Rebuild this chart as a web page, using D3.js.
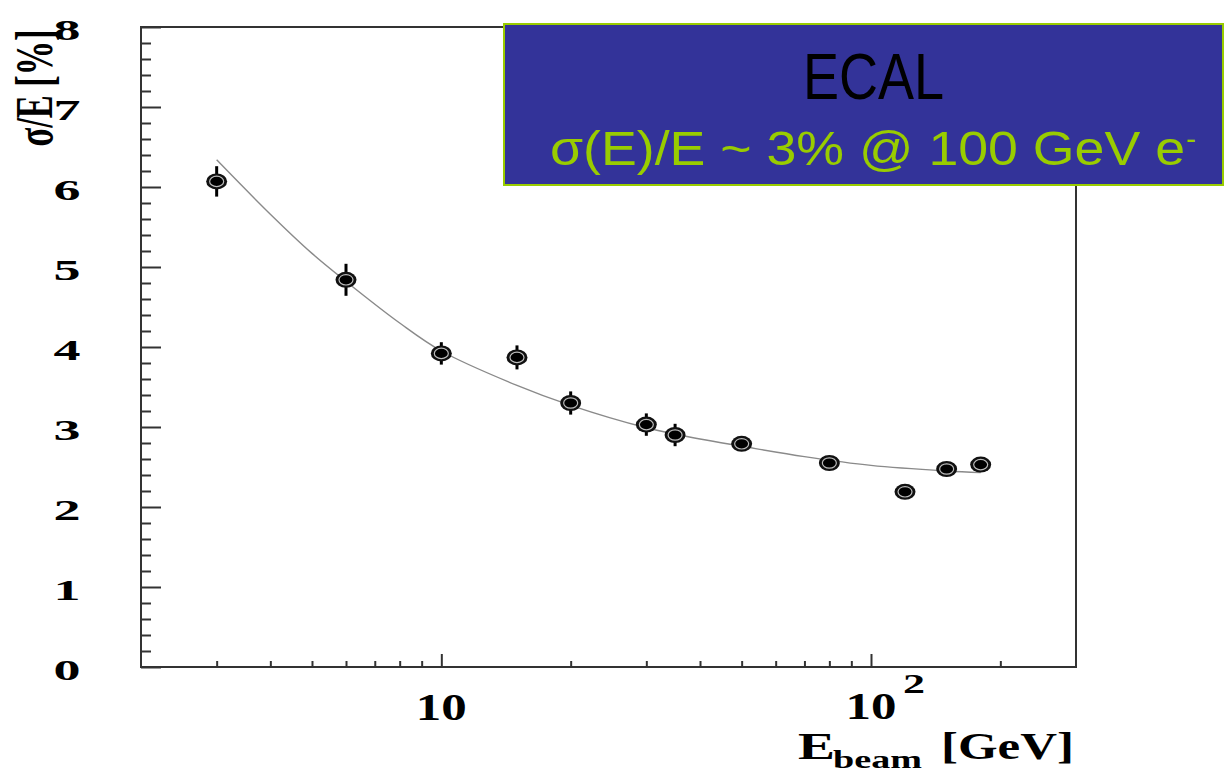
<!DOCTYPE html>
<html>
<head>
<meta charset="utf-8">
<script src="https://cdn.jsdelivr.net/npm/d3@7"></script>
<style>
  html, body { margin: 0; padding: 0; background: #fff; }
  svg { display: block; }
</style>
</head>
<body>
<svg id="chart" width="1224" height="773"></svg>
<script>
// Beam energies [GeV] and measured energy resolution sigma/E [%]
const beamEnergy = [3, 6, 10, 15, 20, 30, 35, 50, 80, 120, 150, 180];
const resolution = [6.07, 4.84, 3.92, 3.87, 3.30, 3.03, 2.90, 2.79, 2.55, 2.19, 2.475, 2.53];
const resolutionErr = [0.19, 0.2, 0.14, 0.15, 0.145, 0.14, 0.14, 0.09, 0.07, 0.06, 0.07, 0.07];

// Fitted resolution curve, sampled along the beam energy range
const fitEnergy = [3, 4, 5, 6, 8, 10, 15, 20, 30, 40, 50, 70, 100, 150, 180];
const fitValue  = [6.34, 5.66, 5.17, 4.82, 4.30, 3.95, 3.52, 3.27, 2.99, 2.85, 2.76, 2.63, 2.52, 2.45, 2.43];

// Axis ticks
const yTicks = [0, 1, 2, 3, 4, 5, 6, 7, 8];
const xMajorTicks = [10, 100];
const xMinorTicks = [3, 4, 5, 6, 7, 8, 9, 20, 30, 40, 50, 60, 70, 80, 90, 200];

const svg = d3.select("#chart");

const frame = { left: 141, right: 1076, top: 27, bottom: 667 };

const x = d3.scaleLog().domain([2, 300]).range([frame.left, frame.right]);
const y = d3.scaleLinear().domain([0, 8]).range([frame.bottom, frame.top]);

const axisColor = "#333";

// Frame
svg.append("rect")
  .attr("x", frame.left).attr("y", frame.top)
  .attr("width", frame.right - frame.left).attr("height", frame.bottom - frame.top)
  .attr("fill", "none").attr("stroke", axisColor).attr("stroke-width", 2);

// Y axis: major ticks at integers, minor ticks every 0.2
const yMinor = d3.range(0, 8.001, 0.2).filter(v => Math.abs(v - Math.round(v)) > 1e-6);
const yAxisMajor = d3.axisRight(y).tickValues(yTicks).tickSize(20).tickFormat("");
const yAxisMinor = d3.axisRight(y).tickValues(yMinor).tickSize(10).tickFormat("");
[yAxisMajor, yAxisMinor].forEach(ax => {
  const g = svg.append("g").attr("transform", `translate(${frame.left},0)`).call(ax);
  g.select(".domain").remove();
  g.selectAll("line").attr("stroke", axisColor).attr("stroke-width", 2);
});

// X axis: decade ticks longer than intermediate ticks
const xAxisMajor = d3.axisTop(x).tickValues(xMajorTicks).tickSize(13).tickFormat("");
const xAxisMinor = d3.axisTop(x).tickValues(xMinorTicks).tickSize(6).tickFormat("");
[xAxisMajor, xAxisMinor].forEach(ax => {
  const g = svg.append("g").attr("transform", `translate(0,${frame.bottom})`).call(ax);
  g.select(".domain").remove();
  g.selectAll("line").attr("stroke", axisColor).attr("stroke-width", 2);
});

const serif = "'Liberation Serif', 'Times New Roman', serif";

// Y tick labels
svg.append("g").selectAll("text")
  .data(yTicks)
  .join("text")
  .attr("x", 67)
  .attr("y", d => y(d) + 13)
  .attr("text-anchor", "middle")
  .attr("font-family", serif)
  .attr("font-weight", "bold")
  .attr("font-size", 30)
  .attr("textLength", 27)
  .attr("lengthAdjust", "spacingAndGlyphs")
  .attr("fill", "#000")
  .text(d => d);

// X tick labels: 10 and 10^2
svg.append("text")
  .attr("x", x(10)).attr("y", 720)
  .attr("text-anchor", "middle")
  .attr("font-family", serif).attr("font-weight", "bold").attr("font-size", 37)
  .attr("textLength", 51).attr("lengthAdjust", "spacingAndGlyphs")
  .text("10");
svg.append("text")
  .attr("x", x(100)).attr("y", 719)
  .attr("text-anchor", "middle")
  .attr("font-family", serif).attr("font-weight", "bold").attr("font-size", 37)
  .attr("textLength", 51).attr("lengthAdjust", "spacingAndGlyphs")
  .text("10");
svg.append("text")
  .attr("x", x(100) + 43).attr("y", 693)
  .attr("text-anchor", "middle")
  .attr("font-family", serif).attr("font-weight", "bold").attr("font-size", 27)
  .attr("textLength", 22).attr("lengthAdjust", "spacingAndGlyphs")
  .text("2");

// X axis title: E_beam [GeV]
svg.append("text")
  .attr("x", 798).attr("y", 759)
  .attr("font-family", serif).attr("font-weight", "bold").attr("font-size", 37)
  .attr("textLength", 37).attr("lengthAdjust", "spacingAndGlyphs")
  .text("E");
svg.append("text")
  .attr("x", 833).attr("y", 768)
  .attr("font-family", serif).attr("font-weight", "bold").attr("font-size", 25)
  .attr("textLength", 89).attr("lengthAdjust", "spacingAndGlyphs")
  .text("beam");
svg.append("text")
  .attr("x", 941).attr("y", 759)
  .attr("font-family", serif).attr("font-weight", "bold").attr("font-size", 37)
  .attr("textLength", 133).attr("lengthAdjust", "spacingAndGlyphs")
  .text("[GeV]");

// Y axis title, rotated and widened across the glyphs
svg.append("text")
  .attr("transform", "translate(52,88) rotate(-90) scale(1,1.75)")
  .attr("text-anchor", "middle")
  .attr("font-family", serif).attr("font-weight", "bold").attr("font-size", 30)
  .attr("textLength", 117).attr("lengthAdjust", "spacingAndGlyphs")
  .text("σ/E [%]");

// Fitted curve
const line = d3.line()
  .x((d, i) => x(fitEnergy[i]))
  .y(d => y(d))
  .curve(d3.curveCatmullRom.alpha(0.5));
svg.append("path")
  .attr("d", line(fitValue))
  .attr("fill", "none")
  .attr("stroke", "#8a8a8a")
  .attr("stroke-width", 1.4);

// Measured points with error bars
const pts = beamEnergy.map((e, i) => ({ e, v: resolution[i], err: resolutionErr[i] }));
const pg = svg.append("g");
pg.selectAll("line.err")
  .data(pts)
  .join("line")
  .attr("class", "err")
  .attr("x1", d => x(d.e)).attr("x2", d => x(d.e))
  .attr("y1", d => y(d.v + d.err)).attr("y2", d => y(d.v - d.err))
  .attr("stroke", "#000").attr("stroke-width", 3);
pg.selectAll("ellipse.outer")
  .data(pts)
  .join("ellipse")
  .attr("class", "outer")
  .attr("cx", d => x(d.e)).attr("cy", d => y(d.v))
  .attr("rx", 10.5).attr("ry", 8)
  .attr("fill", "#111");
pg.selectAll("ellipse.ring")
  .data(pts)
  .join("ellipse")
  .attr("class", "ring")
  .attr("cx", d => x(d.e)).attr("cy", d => y(d.v))
  .attr("rx", 7).attr("ry", 5.2)
  .attr("fill", "#000")
  .attr("stroke", "#bdbdbd").attr("stroke-width", 1.2);

// Annotation box
svg.append("rect")
  .attr("x", 504).attr("y", 24)
  .attr("width", 719).attr("height", 161)
  .attr("fill", "#333399")
  .attr("stroke", "#99cc00").attr("stroke-width", 2);

const narrow = "'Liberation Sans Narrow', 'Arial Narrow', 'Liberation Sans', sans-serif";
svg.append("text")
  .attr("x", 803).attr("y", 99)
  .attr("font-family", narrow).attr("font-size", 64)
  .attr("textLength", 141).attr("lengthAdjust", "spacingAndGlyphs")
  .attr("fill", "#000")
  .text("ECAL");
svg.append("text")
  .attr("x", 550).attr("y", 165)
  .attr("font-family", narrow).attr("font-size", 49)
  .attr("textLength", 635).attr("lengthAdjust", "spacingAndGlyphs")
  .attr("fill", "#99cc00")
  .text("σ(E)/E ~ 3% @ 100 GeV e");
svg.append("text")
  .attr("x", 1186).attr("y", 149)
  .attr("font-family", narrow).attr("font-size", 30)
  .attr("fill", "#99cc00")
  .text("-");
</script>
</body>
</html>
